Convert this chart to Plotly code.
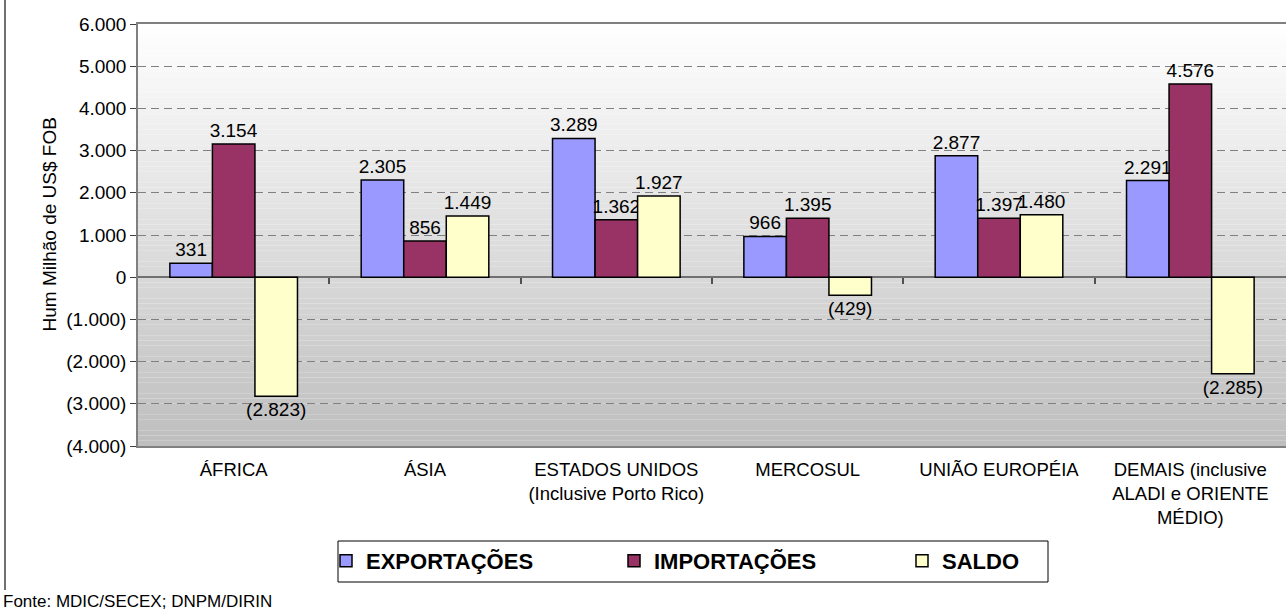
import plotly.graph_objects as go

# ---- data (US$ million FOB)
categories = [
    "ÁFRICA",
    "ÁSIA",
    "ESTADOS UNIDOS<br>(Inclusive Porto Rico)",
    "MERCOSUL",
    "UNIÃO EUROPÉIA",
    "DEMAIS (inclusive<br>ALADI e ORIENTE<br>MÉDIO)",
]
exportacoes = [331, 2305, 3289, 966, 2877, 2291]
importacoes = [3154, 856, 1362, 1395, 1397, 4576]
saldo = [-2823, 1449, 1927, -429, 1480, -2285]

y_ticks = [-4000, -3000, -2000, -1000, 0, 1000, 2000, 3000, 4000, 5000, 6000]

FONT = "Liberation Sans, Arial, sans-serif"


def fmt(v):
    # brazilian thousands separator, negatives in parentheses (Excel style)
    s = f"{abs(v):,}".replace(",", ".")
    return f"({s})" if v < 0 else s


# pixel layout helpers (1286 x 613 page)
W, H = 1286, 613
L, R, T, B = 138, 0, 24, 167
pw, ph = W - L - R, H - T - B


def px_x(x):
    return (x - L) / pw


def px_y(y):
    return (H - B - y) / ph


fig = go.Figure()

series = [
    ("EXPORTAÇÕES", exportacoes, "#9999FF"),
    ("IMPORTAÇÕES", importacoes, "#993366"),
    ("SALDO", saldo, "#FFFFCC"),
]
for name, vals, color in series:
    fig.add_trace(go.Bar(
        x=categories,
        y=vals,
        name=name,
        marker=dict(color=color, line=dict(color="black", width=1.5)),
        text=[fmt(v) for v in vals],
        textposition="outside",
        constraintext="none",
        textfont=dict(size=19, color="black", family=FONT),
        cliponaxis=False,
    ))

# empty trace so the overlay axis (ticks on the zero line) gets drawn
fig.add_trace(go.Scatter(x=[], y=[], xaxis="x2", yaxis="y",
                         showlegend=False, hoverinfo="skip"))

# vertical gradient background (white -> gray), drawn below the grid
n = 80
for i in range(n):
    g = int(round(255 - (255 - 190) * (i + 0.5) / n))
    fig.add_shape(
        type="rect", xref="paper", yref="paper",
        x0=0, x1=1, y0=1 - (i + 1) / n, y1=1 - i / n,
        fillcolor=f"rgb({g},{g},{g})", line=dict(width=0), layer="below",
    )

# left frame line of the chart object
fig.add_shape(
    type="line", xref="paper", yref="paper",
    x0=px_x(5), x1=px_x(5), y0=px_y(590), y1=px_y(0),
    line=dict(color="#404040", width=1.5),
)

# legend frame
fig.add_shape(
    type="rect", xref="paper", yref="paper",
    x0=px_x(338), x1=px_x(1048), y0=px_y(582), y1=px_y(541),
    fillcolor="white", line=dict(color="black", width=1),
)

fig.add_annotation(
    text="Hum Milhão de US$ FOB", textangle=-90,
    xref="paper", yref="paper", x=px_x(36), y=px_y(225),
    showarrow=False, font=dict(size=19, color="black", family=FONT),
)
fig.add_annotation(
    text="Fonte: MDIC/SECEX; DNPM/DIRIN",
    xref="paper", yref="paper", x=px_x(1), y=px_y(601),
    xanchor="left", yanchor="middle",
    showarrow=False, font=dict(size=17, color="black", family=FONT),
)

fig.update_layout(
    width=W, height=H,
    margin=dict(l=L, r=R, t=T, b=B),
    paper_bgcolor="white",
    plot_bgcolor="rgba(0,0,0,0)",
    font=dict(family=FONT, color="black"),
    barmode="group",
    bargap=0.333,
    bargroupgap=0,
    legend=dict(
        orientation="h",
        x=px_x(326), xanchor="left",
        y=px_y(540), yanchor="top",
        borderwidth=0,
        bgcolor="rgba(0,0,0,0)",
        entrywidth=243, entrywidthmode="pixels",
        font=dict(size=22, family=FONT, weight="bold"),
        itemwidth=30,
        tracegroupgap=0,
    ),
    xaxis=dict(
        type="category",
        showline=True, linecolor="#808080", linewidth=1.5, mirror=True,
        ticks="", tickfont=dict(size=18.5, family=FONT),
        ticklabelstandoff=6,
        showgrid=False,
    ),
    # tick marks along the zero line between categories
    xaxis2=dict(
        type="linear", overlaying="x", anchor="free", position=0.4, side="bottom",
        range=[-0.5, 5.5], tickmode="array", tickvals=[0.5, 1.5, 2.5, 3.5, 4.5],
        ticks="outside", ticklen=6, tickwidth=1.5, tickcolor="#505050",
        showticklabels=False, showline=False, showgrid=False, zeroline=False,
    ),
    yaxis=dict(
        range=[-4000, 6000],
        tickvals=y_ticks, ticktext=[fmt(v) for v in y_ticks],
        tickfont=dict(size=19, family=FONT),
        ticks="outside", ticklen=6, tickcolor="#404040",
        showline=True, linecolor="#808080", linewidth=1.5,
        showgrid=True, gridcolor="#808080", gridwidth=1, griddash="8px,5px",
        zeroline=True, zerolinecolor="#707070", zerolinewidth=1.5,
    ),
)

fig.write_html(
    "out.html",
    config={"displayModeBar": False},
    post_script="document.body.style.margin='0';",
)
